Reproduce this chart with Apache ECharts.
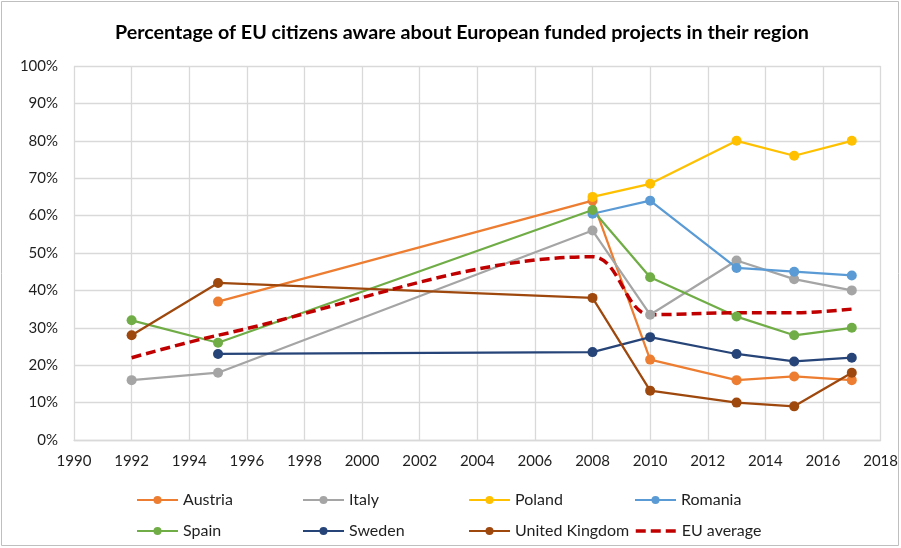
<!DOCTYPE html>
<html>
<head>
<meta charset="utf-8">
<script src="https://cdn.jsdelivr.net/npm/echarts@6/dist/echarts.min.js"></script>
<style>
  html, body { margin: 0; padding: 0; background: #ffffff; }
  #chart { width: 901px; height: 548px; }
</style>
</head>
<body>
<div id="chart"></div>
<script>
// years and values
var austriaYears = [1995, 2008, 2010, 2013, 2015, 2017]
var austria = [37, 64, 21.5, 16, 17, 16]
var italyYears = [1992, 1995, 2008, 2010, 2013, 2015, 2017]
var italy = [16, 18, 56, 33.5, 48, 43, 40]
var polandYears = [2008, 2010, 2013, 2015, 2017]
var poland = [65, 68.5, 80, 76, 80]
var romaniaYears = [2008, 2010, 2013, 2015, 2017]
var romania = [60.5, 64, 46, 45, 44]
var spainYears = [1992, 1995, 2008, 2010, 2013, 2015, 2017]
var spain = [32, 26, 61.5, 43.5, 33, 28, 30]
var swedenYears = [1995, 2008, 2010, 2013, 2015, 2017]
var sweden = [23, 23.5, 27.5, 23, 21, 22]
var ukYears = [1992, 1995, 2008, 2010, 2013, 2015, 2017]
var uk = [28, 42, 38, 13.2, 10, 9, 18]
var euYears = [1992, 1995, 2008, 2010, 2013, 2015, 2017]
var euAverage = [22, 28, 49, 33.5, 34, 34, 35]

var font = 'Lato'
var textColor = '#1f1f1f'

function pairs (xs, ys) {
  return xs.map(function (x, i) { return [x, ys[i]] })
}

var countries = [
  {name: 'Austria', color: '#ED7D31', years: austriaYears, values: austria},
  {name: 'Italy', color: '#A5A5A5', years: italyYears, values: italy},
  {name: 'Poland', color: '#FFC000', years: polandYears, values: poland},
  {name: 'Romania', color: '#5B9BD5', years: romaniaYears, values: romania},
  {name: 'Spain', color: '#70AD47', years: spainYears, values: spain},
  {name: 'Sweden', color: '#264478', years: swedenYears, values: sweden},
  {name: 'United Kingdom', color: '#9E480E', years: ukYears, values: uk}
]

var series = countries.map(function (c) {
  return {
    name: c.name,
    type: 'line',
    data: pairs(c.years, c.values),
    symbol: 'circle',
    symbolSize: 10,
    color: c.color,
    lineStyle: {width: 2.25, color: c.color},
    itemStyle: {color: c.color},
    emphasis: {disabled: true}
  }
})
series.push({
  name: 'EU average',
  type: 'line',
  data: pairs(euYears, euAverage),
  smooth: 0.35,
  showSymbol: false,
  symbol: 'none',
  color: '#C00000',
  lineStyle: {width: 3.5, color: '#C00000', type: [10, 5]},
  emphasis: {disabled: true},
  z: 3
})

// one legend per entry so the 4-column layout matches
var legendNames = ['Austria', 'Italy', 'Poland', 'Romania', 'Spain', 'Sweden', 'United Kingdom', 'EU average']
var legends = legendNames.map(function (n, i) {
  var item = {name: n}
  if (n === 'EU average') {
    item.itemStyle = {opacity: 0}
    item.lineStyle = {width: 3.5, type: [10, 5], color: '#C00000'}
  }
  return {
    data: [item],
    left: 131 + (i % 4) * 166,
    top: i < 4 ? 487 : 518,
    itemWidth: 41,
    itemHeight: 10,
    selectedMode: false,
    textStyle: {fontFamily: font, fontSize: 16, color: textColor}
  }
})

var option = {
  animation: false,
  title: {
    text: 'Percentage of EU citizens aware about European funded projects in their region',
    left: 110,
    top: 18,
    textStyle: {fontFamily: font, fontSize: 19.7, fontWeight: 'bold', color: '#000000'}
  },
  legend: legends,
  grid: {left: 74, right: 20, top: 66, bottom: 108},
  xAxis: {
    type: 'value',
    min: 1990,
    max: 2018,
    interval: 2,
    axisLine: {show: true, lineStyle: {color: '#d9d9d9', width: 1.3}},
    axisTick: {show: false},
    splitLine: {show: true, lineStyle: {color: '#d9d9d9', width: 1.3}},
    axisLabel: {fontFamily: font, fontSize: 15, color: textColor, margin: 14, formatter: function (v) { return String(v) }}
  },
  yAxis: {
    type: 'value',
    min: 0,
    max: 100,
    interval: 10,
    axisLine: {show: false},
    axisTick: {show: false},
    splitLine: {show: true, lineStyle: {color: '#d9d9d9', width: 1.3}},
    axisLabel: {fontFamily: font, fontSize: 15, color: textColor, margin: 16, formatter: '{value}%'}
  },
  graphic: [{
    type: 'rect',
    shape: {x: 1.5, y: 1.5, width: 897, height: 544},
    style: {fill: 'none', stroke: '#bfbfbf', lineWidth: 1},
    silent: true
  }],
  series: series
}

var myChart = echarts.init(document.getElementById('chart'))
myChart.setOption(option)
</script>
</body>
</html>
